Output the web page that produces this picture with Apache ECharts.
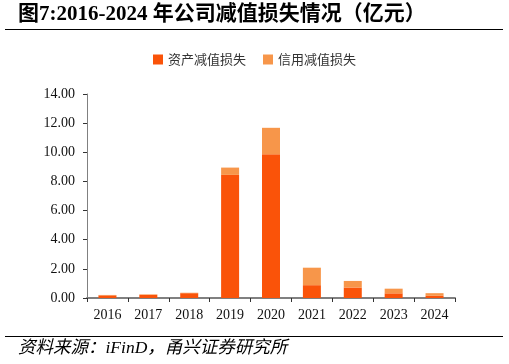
<!DOCTYPE html>
<html><head><meta charset="utf-8">
<script src="https://cdn.jsdelivr.net/npm/echarts@6/dist/echarts.min.js"></script>
<style>html,body{margin:0;padding:0;background:#fff}#c{width:509px;height:364px}</style>
</head><body><div id="c"></div>
<script>
const categories = ['2016','2017','2018','2019','2020','2021','2022','2023','2024'];
const assetLoss = [0.18,0.22,0.33,8.45,9.86,0.88,0.72,0.32,0.15];
const creditLoss = [0.03,0.03,0.03,0.50,1.82,1.20,0.45,0.32,0.18];
const seriesNames = ['资产减值损失','信用减值损失'];
const titleText = '图7:2016-2024 年公司减值损失情况（亿元）';
const sourceText = '资料来源：iFinD，甬兴证券研究所';

const chart = echarts.init(document.getElementById('c'), null, {renderer:'canvas'});
const serif = '"Liberation Serif","Noto Sans CJK SC",serif';
chart.setOption({
  animation:false,
  backgroundColor:'#fff',
  color:['#FA5309','#F7964A'],
  legend:{
    top:48, left:'center', itemWidth:10, itemHeight:10, itemGap:17, icon:'rect',
    textStyle:{fontFamily:'"Noto Sans CJK SC",sans-serif', fontSize:13, color:'#333'},
    data:seriesNames
  },
  grid:{left:87, right:54, top:94, bottom:66, containLabel:false},
  xAxis:{
    type:'category', data:categories,
    axisLine:{lineStyle:{color:'#808080', width:2}},
    axisTick:{show:true, alignWithLabel:false, length:4, inside:false, lineStyle:{color:'#333', width:1}},
    axisLabel:{fontFamily:serif, fontSize:14, color:'#111', margin:10}
  },
  yAxis:{
    type:'value', min:0, max:14, interval:2,
    axisLine:{show:true, lineStyle:{color:'#808080', width:1}},
    axisTick:{show:true, length:4, lineStyle:{color:'#333'}},
    splitLine:{show:false},
    axisLabel:{fontFamily:serif, fontSize:14, color:'#111', margin:12, formatter:v=>v.toFixed(2)}
  },
  series:[
    {name:seriesNames[0], type:'bar', stack:'t', data:assetLoss, barWidth:18},
    {name:seriesNames[1], type:'bar', stack:'t', data:creditLoss, barWidth:18}
  ],
  graphic:[
    {type:'text', left:18, top:4, style:{text:titleText, font:'bold 21px "Liberation Serif","Noto Sans CJK SC",serif', fill:'#000'}},
    {type:'line', shape:{x1:5,y1:29.5,x2:503,y2:29.5}, style:{stroke:'#000', lineWidth:1}},
    {type:'line', shape:{x1:5,y1:336.5,x2:503,y2:336.5}, style:{stroke:'#000', lineWidth:1}},
    {type:'text', left:18, top:340, style:{text:sourceText, font:'italic 17.5px "Liberation Serif","Noto Sans CJK SC",serif', fill:'#000'}}
  ]
});
</script></body></html>
